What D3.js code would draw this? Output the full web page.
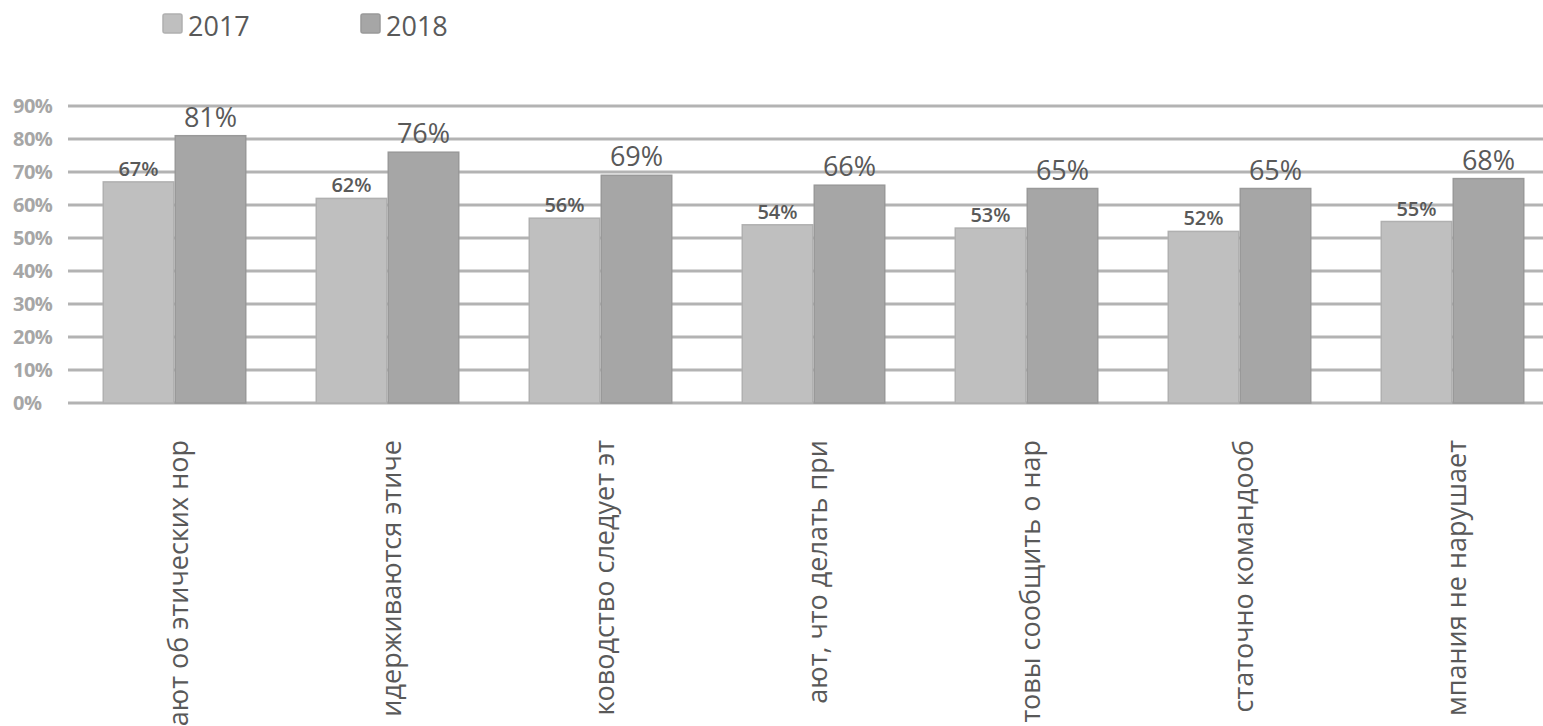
<!DOCTYPE html>
<html><head><meta charset="utf-8">
<script src="https://cdn.jsdelivr.net/npm/d3@7/dist/d3.min.js"></script>
<style>html,body{margin:0;padding:0;background:#fff;overflow:hidden}</style>
</head><body>
<svg id="c" width="1543" height="726"></svg>
<script>
const categories = [
  "ают об этических нор",
  "идерживаются этиче",
  "ководство следует эт",
  "ают, что делать при",
  "товы сообщить о нар",
  "статочно командооб",
  "мпания не нарушает"
];
const seriesNames = ["2017", "2018"];
const values2017 = [67, 62, 56, 54, 53, 52, 55];
const values2018 = [81, 76, 69, 66, 65, 65, 68];
const yTicks = [0, 10, 20, 30, 40, 50, 60, 70, 80, 90];
const colors = ["#bfbfbf", "#a6a6a6"];
const strokes = ["#b0b0b0", "#999999"];

const svg = d3.select("#c");
const font = "'Open Sans', 'DejaVu Sans', sans-serif";
const x0 = 68, x1 = 1559, yBottom = 403, yTop = 106;

const x = d3.scaleBand().domain(categories).range([x0, x1]).paddingInner(0.324).paddingOuter(0.162);
const xs = d3.scaleBand().domain(seriesNames).range([0, x.bandwidth()]);
const y = d3.scaleLinear().domain([0, 90]).range([yBottom, yTop]);

// gridlines
svg.append("g").selectAll("line").data(yTicks).join("line")
  .attr("x1", x0).attr("x2", 1543)
  .attr("y1", d => y(d)).attr("y2", d => y(d))
  .attr("stroke", "#b3b3b3").attr("stroke-width", 3);

// y labels
svg.append("g").selectAll("text").data(yTicks).join("text")
  .attr("x", 13).attr("y", d => y(d)).attr("dy", "0.36em")
  .attr("font-family", font).attr("font-size", 20).attr("font-weight", 700)
  .attr("fill", "#a6a6a6").attr("letter-spacing", "-0.5px")
  .text(d => d + "%");

const series = [values2017, values2018];
const g = svg.append("g");
series.forEach((vals, si) => {
  g.selectAll(".b" + si).data(categories).join("rect")
    .attr("x", c => x(c) + xs(seriesNames[si]) + 0.75)
    .attr("width", xs.bandwidth() - 1.5)
    .attr("y", (c, i) => y(vals[i]))
    .attr("height", (c, i) => yBottom - y(vals[i]))
    .attr("fill", colors[si]).attr("stroke", strokes[si]).attr("stroke-width", 1.5);
  g.selectAll(".l" + si).data(categories).join("text")
    .attr("x", c => x(c) + xs(seriesNames[si]) + xs.bandwidth() / 2)
    .attr("y", (c, i) => y(vals[i]) - (si === 0 ? 6 : 9))
    .attr("text-anchor", "middle")
    .attr("font-family", font)
    .attr("font-size", si === 0 ? 20 : 27)
    .attr("font-weight", si === 0 ? 600 : 400)
    .attr("fill", "#595959")
    .text((c, i) => vals[i] + "%");
});

// x labels (rotated)
svg.append("g").selectAll("text").data(categories).join("text")
  .attr("transform", c => `translate(${x(c) + x.bandwidth() / 2 + 13},440) rotate(-90)`)
  .attr("text-anchor", "end")
  .attr("font-family", font).attr("font-size", 27).attr("fill", "#595959")
  .text(c => c);

// legend
const lg = svg.append("g");
const legX = [163, 361];
seriesNames.forEach((s, i) => {
  lg.append("rect").attr("x", legX[i]).attr("y", 14).attr("width", 19).attr("height", 19)
    .attr("fill", colors[i]).attr("stroke", strokes[i]).attr("stroke-width", 1.5).attr("rx", 2);
  lg.append("text").attr("x", legX[i] + 25).attr("y", 36)
    .attr("font-family", font).attr("font-size", 27).attr("fill", "#595959").text(s);
});
</script>
</body></html>
